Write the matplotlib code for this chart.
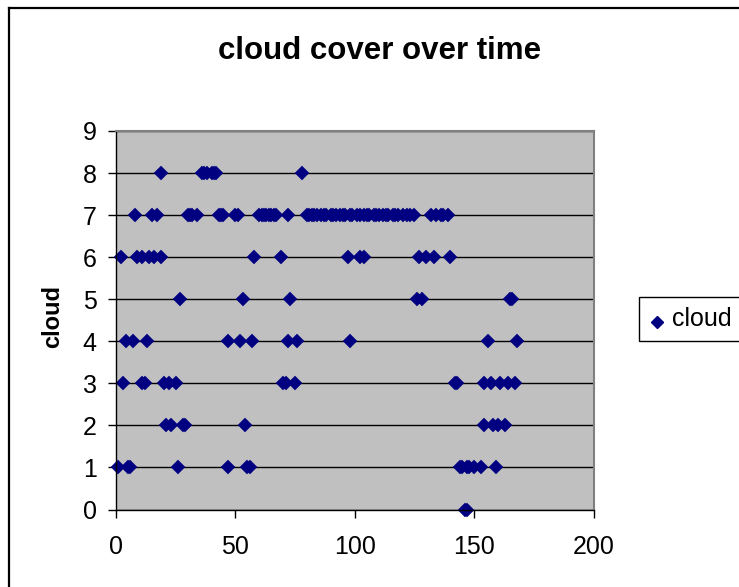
import matplotlib
matplotlib.use("Agg")
import matplotlib.pyplot as plt
from matplotlib.patches import Rectangle
from matplotlib.lines import Line2D

plt.rcParams['font.family'] = ['Liberation Sans', 'DejaVu Sans']

title = "cloud cover over time"
y_label = "cloud"
series_name = "cloud"

# time values grouped by cloud level
t_cloud8 = [19, 36, 37, 38, 40, 41, 42, 78]
t_cloud7 = [8, 15, 17, 30, 31, 32, 34, 43, 44, 45, 50, 51, 60, 61, 62, 63, 64, 65, 66, 67, 72,
            80, 81, 82, 83, 84, 86, 87, 88, 90, 91, 92, 94, 95, 96, 98, 99, 101, 102, 104, 105,
            106, 108, 109, 110, 112, 113, 114, 116, 117, 118, 120, 122, 123, 125,
            132, 134, 136, 137, 139]
t_cloud6 = [2, 9, 11, 14, 16, 19, 58, 69, 97, 102, 104, 127, 130, 133, 140]
t_cloud5 = [27, 53, 73, 126, 128, 165, 166]
t_cloud4 = [4, 7, 13, 47, 52, 57, 72, 76, 98, 156, 168]
t_cloud3 = [3, 11, 12, 20, 22, 25, 70, 71, 75, 142, 143, 154, 157, 161, 164, 167]
t_cloud2 = [21, 23, 28, 29, 54, 154, 158, 160, 163]
t_cloud1 = [1, 5, 6, 26, 47, 55, 56, 144, 145, 147, 148, 150, 153, 159]
t_cloud0 = [146, 147]

levels = [8, 7, 6, 5, 4, 3, 2, 1, 0]
groups = [t_cloud8, t_cloud7, t_cloud6, t_cloud5, t_cloud4, t_cloud3, t_cloud2, t_cloud1, t_cloud0]

x_vals = []
y_vals = []
for lvl, g in zip(levels, groups):
    x_vals.extend(g)
    y_vals.extend([lvl] * len(g))

W, H = 739, 587
fig = plt.figure(figsize=(W / 100, H / 100), dpi=100)
fig.patch.set_facecolor('white')

# outer chart border (left and top visible, others run off the image)
fig.lines.append(Line2D([8.5 / W, 8.5 / W], [-0.01, 1 - 7.5 / H], transform=fig.transFigure,
                        color='black', linewidth=1.6))
fig.lines.append(Line2D([8.5 / W, 1.01], [1 - 7.5 / H, 1 - 7.5 / H], transform=fig.transFigure,
                        color='black', linewidth=1.6))

left, right = 116, 593.5
top, bottom = 131, 509.5
ax = fig.add_axes([left / W, 1 - bottom / H, (right - left) / W, (bottom - top) / H])
ax.set_facecolor('#C0C0C0')

ax.set_xlim(0, 200)
ax.set_ylim(0, 9)
ax.set_xticks([0, 50, 100, 150, 200])
ax.set_yticks(range(0, 10))
ax.yaxis.grid(True, color='black', linewidth=1.0)
ax.set_axisbelow(True)

for s in ['top', 'right']:
    ax.spines[s].set_color('#808080')
    ax.spines[s].set_linewidth(1.5)
for s in ['left', 'bottom']:
    ax.spines[s].set_color('black')
    ax.spines[s].set_linewidth(1.0)

ax.tick_params(axis='both', direction='out', length=6, width=1, labelsize=18,
               colors='black')
ax.tick_params(axis='y', pad=8)
ax.tick_params(axis='x', pad=12)

ax.plot(x_vals, y_vals, linestyle='none', marker='D', markersize=6.8,
        markerfacecolor='#000080', markeredgecolor='#000080', markeredgewidth=0.3,
        label=series_name, clip_on=False)

fig.text(380 / W, 1 - 51 / H, title, ha='center', va='center', fontsize=22.5,
         fontweight='bold')
fig.text(53 / W, 1 - 317 / H, y_label, ha='center', va='center', rotation=90,
         fontsize=17, fontweight='bold')

# legend box (clipped by figure edge)
fig.patches.append(Rectangle((639 / W, 1 - 341 / H), 120 / W, 44 / H,
                             transform=fig.transFigure, fill=True, facecolor='white',
                             edgecolor='black', linewidth=1.0))
fig.lines.append(Line2D([657 / W], [1 - 322 / H], transform=fig.transFigure,
                        marker='D', markersize=6, color='#000080', linestyle='none'))
fig.text(672 / W, 1 - 319 / H, series_name, ha='left', va='center', fontsize=18)

fig.savefig('out.png', dpi=100)
